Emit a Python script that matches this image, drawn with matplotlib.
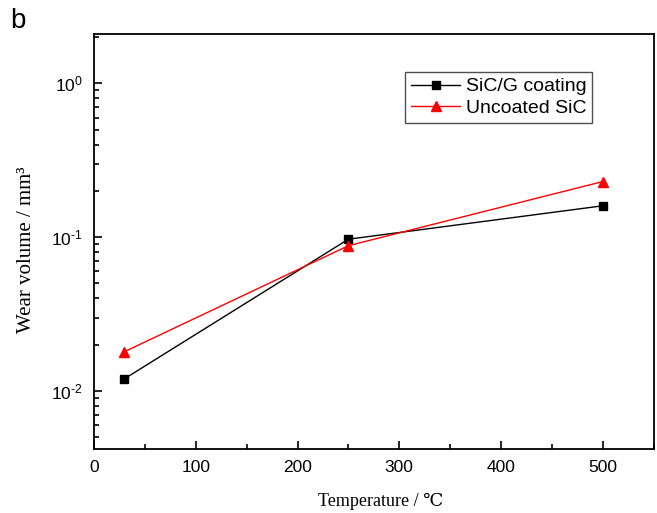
import matplotlib
matplotlib.use("Agg")
import math
import matplotlib.pyplot as plt
from matplotlib.ticker import LogLocator, MultipleLocator, NullFormatter, FuncFormatter

plt.rcParams['font.family'] = ['Liberation Sans', 'DejaVu Sans']
plt.rcParams['mathtext.fontset'] = 'custom'
plt.rcParams['mathtext.rm'] = 'Liberation Sans'
plt.rcParams['mathtext.it'] = 'Liberation Sans'

# wear volume vs test temperature
temperature = [30, 250, 500]
coated = [0.012, 0.097, 0.16]
uncoated = [0.018, 0.088, 0.23]


def decade_label(v, pos):
    e = int(round(math.log10(v)))
    if e < 0:
        return r'$10^{\text{-}%d}$' % (-e)
    return r'$10^{%d}$' % e


fig = plt.figure(figsize=(6.57, 5.13), dpi=100)
ax = fig.add_axes([0.143, 0.125, 0.852, 0.809])

ax.plot(temperature, coated, 'k-', marker='s', markersize=6, linewidth=1,
        label='SiC/G coating')
ax.plot(temperature, uncoated, 'r-', marker='^', markersize=7, linewidth=1,
        label='Uncoated SiC')

ax.set_yscale('log')
ax.set_xlim(0, 550)
ax.set_ylim(0.0042, 2.1)

ax.xaxis.set_major_locator(MultipleLocator(100))
ax.xaxis.set_minor_locator(MultipleLocator(50))
ax.yaxis.set_major_locator(LogLocator(base=10, numticks=10))
ax.yaxis.set_major_formatter(FuncFormatter(decade_label))
ax.yaxis.set_minor_locator(LogLocator(base=10, subs=range(2, 10), numticks=10))
ax.yaxis.set_minor_formatter(NullFormatter())

ax.tick_params(which='both', direction='in', top=False, right=False,
               width=1.2, labelsize=12.5)
ax.tick_params(which='major', length=6, pad=8)
ax.tick_params(which='minor', length=3.5)
for s in ax.spines.values():
    s.set_linewidth(1.3)

serif = ['Liberation Serif', 'DejaVu Serif']
ax.set_xlabel('Temperature / \u2103', family=serif, fontsize=13)
ax.set_ylabel('Wear volume / mm\u00b3', family=serif, fontsize=15)
ax.xaxis.set_label_coords(0.513, -0.105)
ax.yaxis.set_label_coords(-0.103, 0.48)

leg = ax.legend(loc='upper right', bbox_to_anchor=(0.89, 0.908), fontsize=14,
                frameon=True, fancybox=False, edgecolor='#222222',
                handlelength=2.5, borderpad=0.3, labelspacing=0.2,
                handletextpad=0.3, borderaxespad=0)
leg.get_frame().set_linewidth(1.0)

fig.text(0.015, 0.945, 'b', fontsize=20)

fig.savefig('out.png', dpi=100)
